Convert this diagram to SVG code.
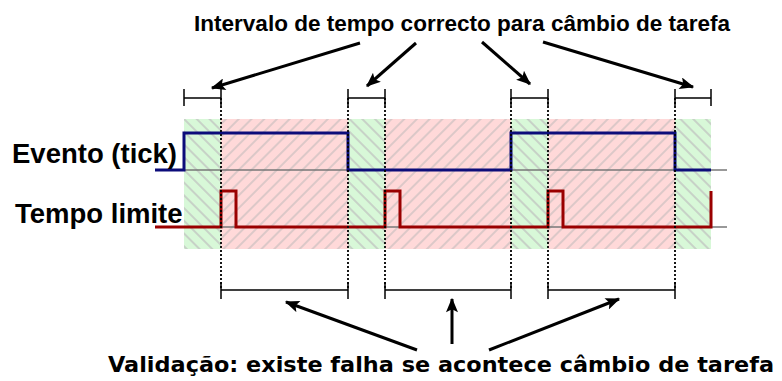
<svg xmlns="http://www.w3.org/2000/svg" width="782" height="381" viewBox="0 0 782 381">
  <style>
    .lbl { font-family: "Liberation Sans", Arial, sans-serif; font-weight: bold; fill: #000; }
    .cap { font-family: "DejaVu Sans", Verdana, sans-serif; font-weight: bold; fill: #000; }
    .ok { fill: url(#hatchOk); }
    .bad { fill: url(#hatchBad); }
    .base { stroke: #777; stroke-width: 1.5; fill: none; }
    .tick { stroke: #0c0c7a; stroke-width: 3; fill: none; }
    .tmo { stroke: #9a0000; stroke-width: 3; fill: none; }
    .dot { stroke: #000; stroke-width: 1.8; stroke-dasharray: 2 2; fill: none; }
    .brk { stroke: #000; stroke-width: 1.5; fill: none; }
    .arr { stroke: #000; stroke-width: 3; fill: none; marker-end: url(#ah); }
  </style>
  <defs>
    <pattern id="hatchOk" width="9" height="9" patternUnits="userSpaceOnUse" patternTransform="rotate(-45)">
      <rect width="9" height="9" fill="#d8f8d8"/>
      <line x1="1" y1="0" x2="1" y2="9" stroke="#c0c0c0" stroke-width="1.6" stroke-opacity="0.85"/>
    </pattern>
    <pattern id="hatchBad" width="9" height="9" patternUnits="userSpaceOnUse" patternTransform="rotate(45)">
      <rect width="9" height="9" fill="#ffd9d9"/>
      <line x1="1" y1="0" x2="1" y2="9" stroke="#cbc0c0" stroke-width="1.6" stroke-opacity="0.85"/>
    </pattern>
    <marker id="ah" viewBox="0 0 12 10" refX="11" refY="5" markerWidth="15" markerHeight="12" markerUnits="userSpaceOnUse" orient="auto">
      <path d="M0,0 L12,5 L0,10 L2.5,5 Z" fill="#000"/>
    </marker>
  </defs>

  <g id="regions">
    <rect class="ok" x="184" y="119" width="37" height="130"/>
    <rect class="bad" x="221" y="119" width="127" height="130"/>
    <rect class="ok" x="348" y="119" width="37" height="130"/>
    <rect class="bad" x="385" y="119" width="126" height="130"/>
    <rect class="ok" x="511" y="119" width="37" height="130"/>
    <rect class="bad" x="548" y="119" width="127" height="130"/>
    <rect class="ok" x="675" y="119" width="36" height="130"/>
  </g>

  <g id="baselines">
    <line class="base" x1="155" y1="170" x2="727" y2="170"/>
    <line class="base" x1="155" y1="227" x2="727" y2="227"/>
  </g>

  <g id="signal-evento">
    <path class="tick" d="M155,170 H184 V133 H348 V170 H511 V133 H675 V170 H711"/>
  </g>
  <g id="signal-tempo">
    <path class="tmo" d="M155,227 H221 V191 H236 V227 H385 V191 H400 V227 H548 V191 H563 V227 H711 V191"/>
  </g>

  <g id="dotted">
    <line class="dot" x1="221" y1="98" x2="221" y2="290"/>
    <line class="dot" x1="348" y1="98" x2="348" y2="290"/>
    <line class="dot" x1="385" y1="98" x2="385" y2="290"/>
    <line class="dot" x1="511" y1="98" x2="511" y2="290"/>
    <line class="dot" x1="548" y1="98" x2="548" y2="290"/>
    <line class="dot" x1="675" y1="98" x2="675" y2="290"/>
  </g>

  <g id="top-brackets">
    <path class="brk" d="M184,89 V106 M184,98 H221 M221,89 V106"/>
    <path class="brk" d="M348,89 V106 M348,98 H385 M385,89 V106"/>
    <path class="brk" d="M511,89 V106 M511,98 H548 M548,89 V106"/>
    <path class="brk" d="M675,89 V106 M675,98 H711 M711,89 V106"/>
  </g>

  <g id="bottom-brackets">
    <path class="brk" d="M221,282 V299 M221,290 H348 M348,282 V299"/>
    <path class="brk" d="M385,282 V299 M385,290 H511 M511,282 V299"/>
    <path class="brk" d="M548,282 V299 M548,290 H675 M675,282 V299"/>
  </g>

  <g id="label-evento">
    <text class="lbl" x="12" y="163" font-size="27.5">Evento (tick)</text>
  </g>
  <g id="label-tempo">
    <text class="lbl" x="15" y="223" font-size="27.5">Tempo limite</text>
  </g>
  <g id="title-top">
    <text class="lbl" x="194" y="31" font-size="22" textLength="536" lengthAdjust="spacingAndGlyphs">Intervalo de tempo correcto para câmbio de tarefa</text>
  </g>
  <g id="title-bottom">
    <text class="cap" x="108" y="372" font-size="22" textLength="666" lengthAdjust="spacingAndGlyphs">Validação: existe falha se acontece câmbio de tarefa</text>
  </g>

  <g id="connectors">
    <line class="arr" x1="360" y1="43" x2="212" y2="88"/>
    <line class="arr" x1="416" y1="43" x2="367" y2="86"/>
    <line class="arr" x1="482" y1="42" x2="530" y2="84"/>
    <line class="arr" x1="543" y1="42" x2="693" y2="87"/>
    <line class="arr" x1="417" y1="350" x2="286" y2="302"/>
    <line class="arr" x1="452" y1="344" x2="452" y2="299"/>
    <line class="arr" x1="489" y1="350" x2="619" y2="299"/>
  </g>
</svg>
